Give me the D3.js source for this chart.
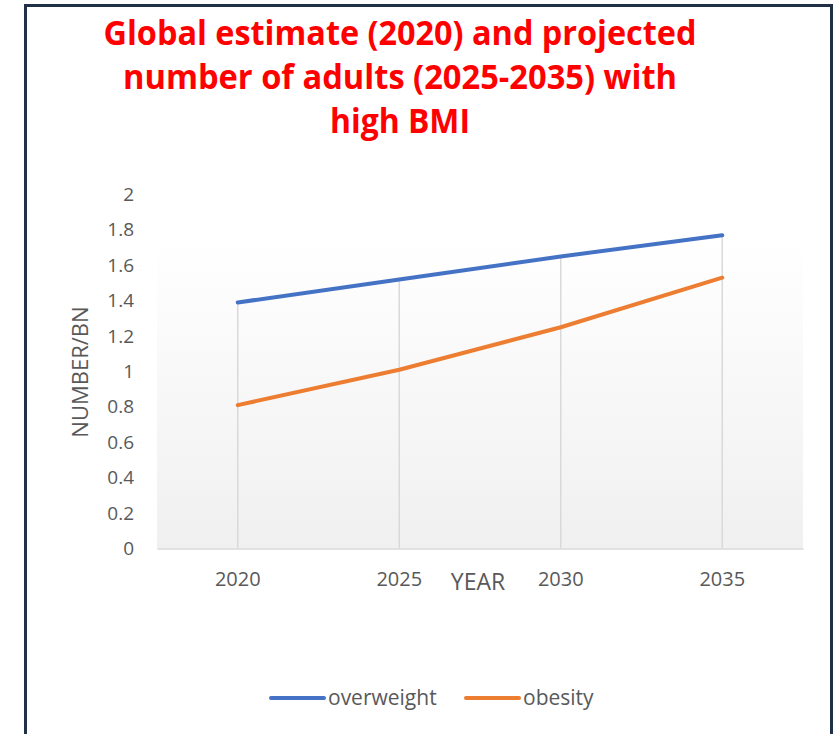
<!DOCTYPE html>
<html>
<head>
<meta charset="utf-8">
<script src="https://cdn.jsdelivr.net/npm/d3@7"></script>
<style>
  html, body { margin: 0; padding: 0; background: #ffffff; }
  svg { display: block; }
</style>
</head>
<body>
<svg id="chart" width="836" height="734"></svg>
<script>
// Chart data
const years = ["2020", "2025", "2030", "2035"];
const overweight = [1.39, 1.52, 1.65, 1.77];
const obesity = [0.81, 1.01, 1.25, 1.53];
const yTicks = [0, 0.2, 0.4, 0.6, 0.8, 1, 1.2, 1.4, 1.6, 1.8, 2];
const seriesNames = ["overweight", "obesity"];
const seriesColors = ["#4472c4", "#ed7d31"];
const titleLines = [
  "Global estimate (2020) and projected",
  "number of adults (2025-2035) with",
  "high BMI"
];

const svg = d3.select("#chart");
const textColor = "#595959";
const font = "'Open Sans', 'Noto Sans', sans-serif";

// Outer frame
svg.append("path")
  .attr("d", "M25.5,734 L25.5,5.5 L831.5,5.5 L831.5,734")
  .attr("fill", "none")
  .attr("stroke", "#1f3047")
  .attr("stroke-width", 3);

// Title
const titleWidths = [593, 554, 140];
const titleBase = [45, 89, 133];
svg.append("g").selectAll("text")
  .data(titleLines)
  .join("text")
  .attr("x", 400)
  .attr("y", (d, i) => titleBase[i])
  .attr("text-anchor", "middle")
  .attr("font-family", font)
  .attr("font-weight", 700)
  .attr("font-size", 34)
  .attr("fill", "#ff0000")
  .attr("textLength", (d, i) => titleWidths[i])
  .attr("lengthAdjust", "spacingAndGlyphs")
  .text(d => d);

// Scales
const x = d3.scaleBand().domain(years).range([157, 803]);
const xc = d => x(d) + x.bandwidth() / 2;
const y = d3.scaleLinear().domain([0, 2]).range([548.5, 194.5]);

// Plot area background gradient
const defs = svg.append("defs");
const grad = defs.append("linearGradient")
  .attr("id", "plotBg").attr("x1", 0).attr("y1", 0).attr("x2", 0).attr("y2", 1);
grad.append("stop").attr("offset", "0%").attr("stop-color", "#ffffff");
grad.append("stop").attr("offset", "100%").attr("stop-color", "#f0f0f0");
svg.append("rect")
  .attr("x", 157).attr("y", 240)
  .attr("width", 646).attr("height", 548.5 - 240)
  .attr("fill", "url(#plotBg)");

// Drop lines from the highest point of each year to the axis
svg.append("g").selectAll("line")
  .data(years)
  .join("line")
  .attr("x1", d => xc(d)).attr("x2", d => xc(d))
  .attr("y1", (d, i) => y(Math.max(overweight[i], obesity[i])))
  .attr("y2", y(0))
  .attr("stroke", "#d9d9d9")
  .attr("stroke-width", 1.5);

// Category axis
const xAxis = svg.append("g")
  .attr("transform", `translate(0,${y(0)})`)
  .call(d3.axisBottom(x).tickSize(0).tickPadding(23));
xAxis.select(".domain").attr("stroke", "#d9d9d9").attr("stroke-width", 1.5);
xAxis.selectAll("text")
  .attr("font-family", font).attr("font-size", 20).attr("fill", textColor);

// Value axis (labels only)
const yAxis = svg.append("g")
  .attr("transform", "translate(134,0)")
  .call(d3.axisLeft(y).tickValues(yTicks).tickSize(0).tickPadding(0)
    .tickFormat(d => d3.format("~g")(d)));
yAxis.select(".domain").remove();
yAxis.selectAll("text")
  .attr("font-family", font).attr("font-size", 19).attr("fill", textColor);

// Axis titles
svg.append("text")
  .attr("x", 478).attr("y", 590)
  .attr("text-anchor", "middle")
  .attr("font-family", font).attr("font-size", 23).attr("fill", textColor)
  .text("YEAR");
svg.append("text")
  .attr("transform", "translate(88,372) rotate(-90)")
  .attr("text-anchor", "middle")
  .attr("font-family", font).attr("font-size", 22).attr("fill", textColor)
  .text("NUMBER/BN");

// Series lines
const line = d3.line().x((d, i) => xc(years[i])).y(d => y(d));
[overweight, obesity].forEach((vals, k) => {
  svg.append("path")
    .datum(vals)
    .attr("d", line)
    .attr("fill", "none")
    .attr("stroke", seriesColors[k])
    .attr("stroke-width", 4)
    .attr("stroke-linecap", "round")
    .attr("stroke-linejoin", "round");
});

// Legend
const legendX = [271, 466];
const legend = svg.append("g").selectAll("g")
  .data(seriesNames)
  .join("g")
  .attr("transform", (d, i) => `translate(${legendX[i]},698)`);
legend.append("line")
  .attr("x1", 0).attr("x2", 53).attr("y1", 0).attr("y2", 0)
  .attr("stroke", (d, i) => seriesColors[i])
  .attr("stroke-width", 4)
  .attr("stroke-linecap", "round");
legend.append("text")
  .attr("x", 57).attr("y", 0)
  .attr("dy", "0.35em")
  .attr("font-family", font).attr("font-size", 21).attr("fill", textColor)
  .text(d => d);
</script>
</body>
</html>
